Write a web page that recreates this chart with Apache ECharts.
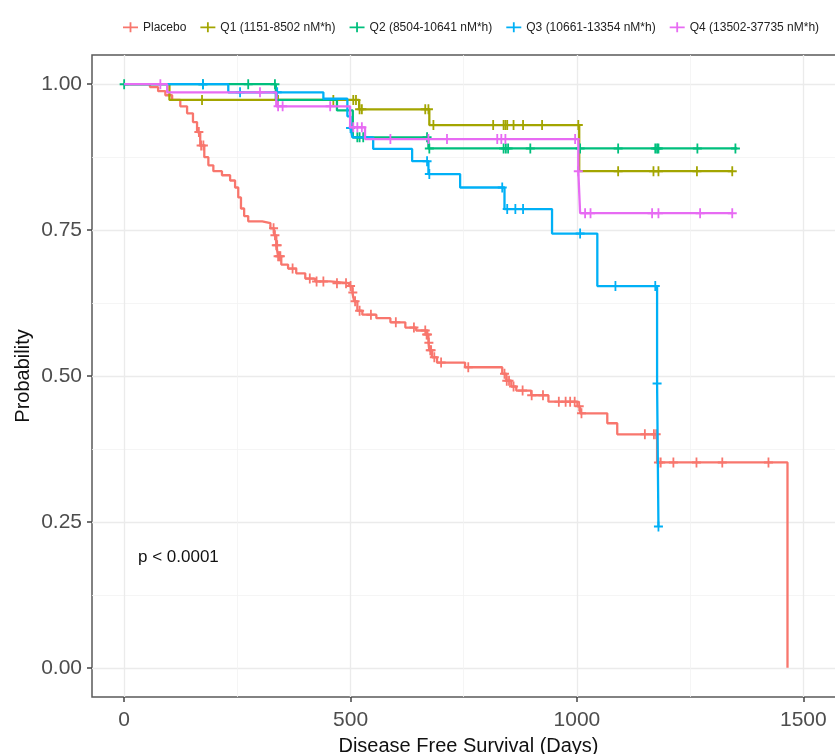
<!doctype html>
<html>
<head>
    <title>Disease Free Survival</title>
    <script src="https://cdn.jsdelivr.net/npm/echarts@6/dist/echarts.min.js"></script>
</head>
<style>
    html, body { margin: 0; padding: 0; background: #fff; }
    #chart { width: 835px; height: 754px; }
</style>
<body>
<div id="chart"></div>
<script>
  // groups, in legend order
  var groups = ['Placebo', 'Q1 (1151-8502 nM*h)', 'Q2 (8504-10641 nM*h)', 'Q3 (10661-13354 nM*h)', 'Q4 (13502-37735 nM*h)'];
  var colors = ['#F8766D', '#A3A500', '#00BF7D', '#00B0F6', '#E76BF3'];

  // step curves: time (days) where survival drops, and the new survival
  var placeboTimes = [0, 57, 75, 91, 106, 124, 139, 152, 161, 168, 177, 186, 197, 216, 234, 245, 252, 258, 265, 274,
    305, 323, 331, 336, 340, 347, 362, 380, 400, 422, 455, 497, 504, 508, 515, 526, 557, 588, 621, 645,
    667, 672, 674, 680, 691, 753, 835, 844, 855, 866, 899, 937, 1001, 1007, 1067, 1089, 1177, 1465];
  var placeboSurv = [1, 0.995, 0.988, 0.981, 0.973, 0.962, 0.950, 0.935, 0.918, 0.895, 0.875, 0.861, 0.851, 0.844, 0.835, 0.823, 0.806, 0.787, 0.774, 0.765,
    0.762, 0.753, 0.741, 0.724, 0.705, 0.691, 0.684, 0.676, 0.667, 0.662, 0.659, 0.654, 0.643, 0.628, 0.612, 0.605, 0.599, 0.592, 0.583, 0.578,
    0.571, 0.557, 0.544, 0.532, 0.523, 0.515, 0.504, 0.492, 0.482, 0.475, 0.467, 0.456, 0.448, 0.436, 0.419, 0.400, 0.352, 0];
  var placeboCensor = [165, 170, 175, 330, 333, 336, 338, 340, 343, 345, 372, 410, 425, 440, 470, 490, 500, 505, 510, 520,
    545, 600, 640, 665, 668, 670, 673, 676, 678, 685, 700, 760, 840, 845, 850, 860, 880, 900, 925, 960,
    975, 985, 995, 1005, 1010, 1150, 1170, 1175, 1180, 1185, 1213, 1264, 1321, 1423];

  var q1Times = [0, 100, 519, 674, 1005, 1343];
  var q1Surv = [1, 0.973, 0.957, 0.930, 0.851, 0.851];
  var q1Censor = [172, 340, 462, 506, 512, 520, 525, 665, 672, 683, 815, 838, 842, 846, 860, 881, 923, 1003, 1091, 1169, 1180, 1265, 1343];

  var q2Times = [0, 335, 470, 505, 672, 1354];
  var q2Surv = [1, 0.973, 0.955, 0.909, 0.890, 0.890];
  var q2Censor = [0, 174, 274, 333, 515, 520, 528, 669, 674, 838, 843, 848, 897, 1007, 1091, 1173, 1177, 1180, 1266, 1350];

  var q3Times = [0, 230, 440, 493, 500, 504, 550, 636, 672, 742, 840, 945, 1045, 1177, 1180];
  var q3Surv = [1, 0.986, 0.975, 0.945, 0.925, 0.909, 0.889, 0.868, 0.846, 0.823, 0.786, 0.744, 0.654, 0.487, 0.242];
  var q3Censor = [174, 256, 338, 500, 669, 674, 835, 846, 864, 881, 1007, 1085, 1173, 1177, 1180];

  var q4Times = [0, 95, 336, 499, 532, 1003, 1007, 1343];
  var q4Surv = [1, 0.986, 0.962, 0.926, 0.906, 0.851, 0.779, 0.779];
  var q4Censor = [80, 300, 340, 350, 455, 506, 515, 525, 588, 672, 713, 824, 833, 842, 996, 1003, 1018, 1030, 1166, 1180, 1272, 1343];

  var xMajor = [0, 500, 1000, 1500];
  var xMinor = [250, 750, 1250];
  var yMajor = [0, 0.25, 0.5, 0.75, 1];
  var yMinor = [0.125, 0.375, 0.625, 0.875];

  var curves = [
    [placeboTimes, placeboSurv, placeboCensor],
    [q1Times, q1Surv, q1Censor],
    [q2Times, q2Surv, q2Censor],
    [q3Times, q3Surv, q3Censor],
    [q4Times, q4Surv, q4Censor]
  ];

  // survival value in effect at time t
  function survAt(times, surv, t) {
    var s = surv[0];
    for (var i = 0; i < times.length; i++) {
      if (times[i] <= t) s = surv[i];
    }
    return s;
  }

  var plusPath = 'path://M4,0H6V4H10V6H6V10H4V6H0V4H4Z';
  var legendIcon = 'path://M0,4.2H6.6V0H8.4V4.2H15V5.8H8.4V10H6.6V5.8H0Z';

  var series = [];
  curves.forEach(function (c, i) {
    series.push({
      name: groups[i],
      type: 'line',
      step: 'end',
      showSymbol: false,
      symbol: 'none',
      data: c[0].map(function (t, k) { return [t, c[1][k]]; }),
      lineStyle: { color: colors[i], width: 2.3 },
      itemStyle: { color: colors[i] },
      z: 2 + i
    });
    series.push({
      name: groups[i],
      type: 'scatter',
      symbol: plusPath,
      symbolSize: [9, 10],
      data: c[2].map(function (t) { return [t, survAt(c[0], c[1], t)]; }),
      itemStyle: { color: colors[i], opacity: 1 },
      z: 2 + i
    });
  });

  var axisGrey = '#4D4D4D';
  var xMin = -71, xMax = 1592;
  var yMin = -0.05, yMax = 1.05;

  var chart = echarts.init(document.getElementById('chart'));
  var option = {
    animation: false,
    textStyle: { fontFamily: 'Liberation Sans, Arial, sans-serif' },
    legend: {
      top: 12,
      left: 118,
      width: 760,
      itemWidth: 15,
      itemHeight: 10,
      itemGap: 14,
      textStyle: { fontSize: 12, color: '#222' },
      data: groups.map(function (g) { return { name: g, icon: legendIcon }; })
    },
    grid: {
      left: 92,
      top: 55,
      bottom: 57,
      width: 753,
      outerBoundsMode: 'none',
      containLabel: false,
      show: true,
      borderColor: '#5a5a5a',
      borderWidth: 1.5,
      backgroundColor: '#fff'
    },
    graphic: [{
      type: 'text',
      left: 138,
      top: 543,
      style: { text: 'p < 0.0001', fontSize: 17, fill: '#111', fontFamily: 'Liberation Sans, Arial, sans-serif' }
    }],
    xAxis: [{
      type: 'value',
      min: xMin,
      max: xMax,
      name: 'Disease Free Survival (Days)',
      nameLocation: 'middle',
      nameMoveOverlap: false,
      nameGap: 32,
      nameTextStyle: { fontSize: 20, color: '#111' },
      axisLine: { show: false, onZero: false },
      axisTick: { show: true, length: 5, customValues: xMajor, lineStyle: { color: '#444', width: 1.5 } },
      axisLabel: {
        customValues: xMajor,
        fontSize: 21,
        color: axisGrey,
        margin: 5,
        formatter: function (v) { return String(v); }
      },
      splitLine: { show: true, lineStyle: { color: '#EBEBEB', width: 1.3 } }
    }, {
      type: 'value',
      min: xMin,
      max: xMax,
      position: 'bottom',
      axisLine: { show: false, onZero: false },
      axisTick: { show: false, customValues: xMinor },
      axisLabel: { show: false, customValues: xMinor },
      splitLine: { show: true, lineStyle: { color: '#F3F3F3', width: 0.8 } }
    }],
    yAxis: [{
      type: 'value',
      min: yMin,
      max: yMax,
      name: 'Probability',
      nameLocation: 'middle',
      nameMoveOverlap: false,
      nameGap: 51,
      nameTextStyle: { fontSize: 20, color: '#111' },
      axisLine: { show: false, onZero: false },
      axisTick: { show: true, length: 5, customValues: yMajor, lineStyle: { color: '#444', width: 1.5 } },
      axisLabel: {
        customValues: yMajor,
        fontSize: 21,
        color: axisGrey,
        margin: 10,
        formatter: function (v) { return v.toFixed(2); }
      },
      splitLine: { show: true, lineStyle: { color: '#EBEBEB', width: 1.3 } }
    }, {
      type: 'value',
      min: yMin,
      max: yMax,
      position: 'left',
      axisLine: { show: false, onZero: false },
      axisTick: { show: false, customValues: yMinor },
      axisLabel: { show: false, customValues: yMinor },
      splitLine: { show: true, lineStyle: { color: '#F3F3F3', width: 0.8 } }
    }],
    series: series
  };
  chart.setOption(option);
</script>
</body>
</html>
